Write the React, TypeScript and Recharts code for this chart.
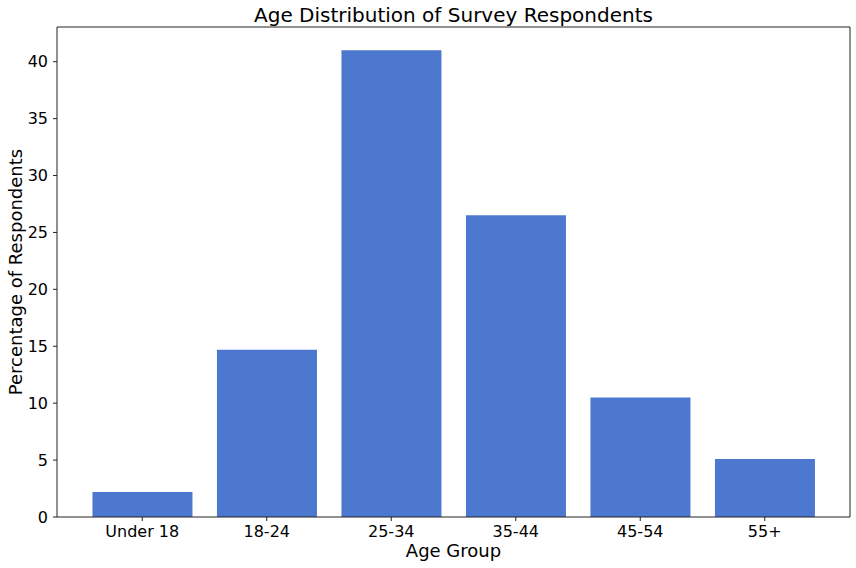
import React from "react";
import { BarChart, Bar, XAxis, YAxis, Label, CartesianGrid } from "recharts";

const ageGroups = ["Under 18", "18-24", "25-34", "35-44", "45-54", "55+"];
const percentages = [2.2, 14.7, 41.0, 26.5, 10.5, 5.1];
const yTicks = [0, 5, 10, 15, 20, 25, 30, 35, 40];

const data = ageGroups.map((group, i) => ({ group, pct: percentages[i] }));

const FONT = "DejaVu Sans, sans-serif";
const AXIS = "#222";

const App = () => {
  return (
    <div style={{ position: "absolute", left: 0, top: 0, width: 856, height: 568, background: "#fff" }}>
      <BarChart
        width={856}
        height={568}
        data={data}
        margin={{ top: 27, right: 6, bottom: 0, left: 0 }}
        barCategoryGap="10%"
      >
        {/* top and right spines */}
        <CartesianGrid
          stroke={AXIS}
          horizontalCoordinatesGenerator={({ offset }: any) => [offset.top]}
          verticalCoordinatesGenerator={({ offset }: any) => [offset.left + offset.width]}
        />
        <XAxis
          dataKey="group"
          height={51}
          padding={{ left: 23, right: 23 }}
          stroke={AXIS}
          tickSize={4}
          tickMargin={5}
          tick={{ fill: "#000", fontSize: 16, fontFamily: FONT }}
        >
          <Label
            content={({ viewBox }: any) => (
              <g>
                <text
                  x={viewBox.x + viewBox.width / 2}
                  y={557}
                  textAnchor="middle"
                  fontSize={18}
                  fontFamily={FONT}
                  fill="#000"
                >
                  Age Group
                </text>
                <text
                  x={viewBox.x + viewBox.width / 2}
                  y={22}
                  textAnchor="middle"
                  fontSize={20}
                  fontFamily={FONT}
                  fill="#000"
                >
                  Age Distribution of Survey Respondents
                </text>
              </g>
            )}
          />
        </XAxis>
        <YAxis
          width={57}
          domain={[0, 43.05]}
          ticks={yTicks}
          type="number"
          allowDataOverflow
          stroke={AXIS}
          tickSize={4}
          tickMargin={5}
          tick={{ fill: "#000", fontSize: 16, fontFamily: FONT }}
        >
          <Label
            content={({ viewBox }: any) => {
              const cy = viewBox.y + viewBox.height / 2;
              return (
                <text
                  x={15}
                  y={cy}
                  transform={`rotate(-90, 15, ${cy})`}
                  textAnchor="middle"
                  dominantBaseline="central"
                  fontSize={18}
                  fontFamily={FONT}
                  fill="#000"
                >
                  Percentage of Respondents
                </text>
              );
            }}
          />
        </YAxis>
        <Bar dataKey="pct" fill="#4c78cf" isAnimationActive={false} />
      </BarChart>
    </div>
  );
};

export default App;
